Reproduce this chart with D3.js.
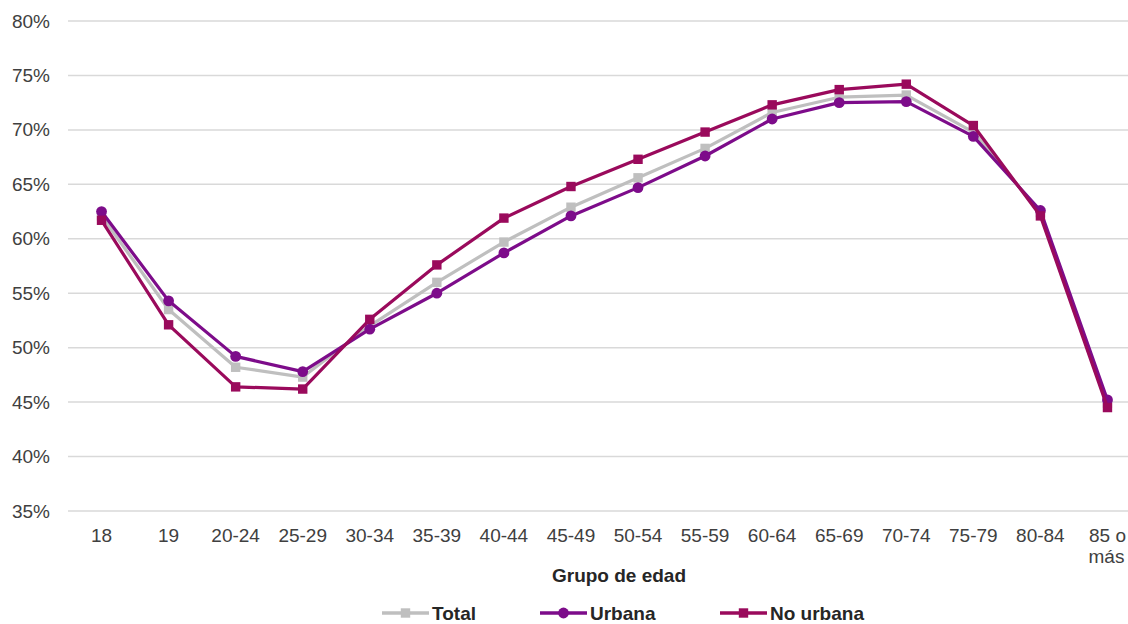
<!DOCTYPE html>
<html><head><meta charset="utf-8">
<script src="https://cdn.jsdelivr.net/npm/d3@7"></script>
<style>body{margin:0;background:#fff}svg{display:block;font-family:"Liberation Sans",Arial,sans-serif}</style>
</head><body><svg id="c" width="1128" height="624"></svg>
<script>
const categories = ["18","19","20-24","25-29","30-34","35-39","40-44","45-49","50-54","55-59","60-64","65-69","70-74","75-79","80-84","85 o más"];
const total    = [62.1,53.5,48.2,47.3,52.0,56.0,59.7,62.9,65.6,68.3,71.6,73.0,73.2,69.8,62.4,44.9];
const urbana   = [62.5,54.3,49.2,47.8,51.7,55.0,58.7,62.1,64.7,67.6,71.0,72.5,72.6,69.4,62.6,45.2];
const noUrbana = [61.7,52.1,46.4,46.2,52.6,57.6,61.9,64.8,67.3,69.8,72.3,73.7,74.2,70.4,62.1,44.5];
const yTicks = [35,40,45,50,55,60,65,70,75,80];
const seriesNames = ["Total","Urbana","No urbana"];

const svg = d3.select("#c");
const x = d3.scaleBand().domain(categories).range([68,1141]);
const y = d3.scaleLinear().domain([35,80]).range([511,21]);
const cx = d => x(d) + x.bandwidth()/2;
const FS = 19;

// grid
svg.append("g").selectAll("line").data(yTicks).join("line")
  .attr("x1",68).attr("x2",1128).attr("y1",d=>y(d)).attr("y2",d=>y(d))
  .attr("stroke","#d9d9d9").attr("stroke-width",1.5);

// y labels
svg.append("g").selectAll("text").data(yTicks).join("text")
  .attr("x",50).attr("y",d=>y(d)+6.5).attr("text-anchor","end")
  .attr("font-size",FS).attr("fill","#404040").text(d=>d+"%");

// x labels
const xl = svg.append("g");
categories.forEach(c=>{
  const parts = c==="85 o más" ? ["85 o","más"] : [c];
  parts.forEach((p,i)=>{
    xl.append("text").attr("x",cx(c)+(i===1?-1:0)).attr("y",542+i*21).attr("text-anchor","middle")
      .attr("font-size",FS).attr("fill","#404040").text(p);
  });
});
svg.append("text").attr("x",619).attr("y",582).attr("text-anchor","middle")
  .attr("font-size",FS).attr("font-weight","bold").attr("fill","#262626").text("Grupo de edad");

const series = [
  {name:seriesNames[0], vals:total, color:"#bfbfbf", shape:"square"},
  {name:seriesNames[1], vals:urbana, color:"#7d0c8a", shape:"circle"},
  {name:seriesNames[2], vals:noUrbana, color:"#9a0a5c", shape:"square"}
];
const line = d3.line().x((d,i)=>cx(categories[i])).y(d=>y(d));
series.forEach(s=>{
  const g = svg.append("g");
  g.append("path").datum(s.vals).attr("d",line).attr("fill","none")
   .attr("stroke",s.color).attr("stroke-width",3.2).attr("stroke-linejoin","round");
  if(s.shape==="circle"){
    g.selectAll("circle").data(s.vals).join("circle")
     .attr("cx",(d,i)=>cx(categories[i])).attr("cy",d=>y(d)).attr("r",5.4).attr("fill",s.color);
  } else {
    g.selectAll("rect").data(s.vals).join("rect")
     .attr("x",(d,i)=>cx(categories[i])-4.7).attr("y",d=>y(d)-4.7).attr("width",9.4).attr("height",9.4).attr("fill",s.color);
  }
});

// legend
const legX = [382,540,720];
series.forEach((s,i)=>{
  const g = svg.append("g").attr("transform",`translate(${legX[i]},613)`);
  g.append("line").attr("x1",0).attr("x2",47).attr("y1",0).attr("y2",0).attr("stroke",s.color).attr("stroke-width",3.4);
  if(s.shape==="circle") g.append("circle").attr("cx",23.5).attr("cy",0).attr("r",5.4).attr("fill",s.color);
  else g.append("rect").attr("x",18.8).attr("y",-4.7).attr("width",9.4).attr("height",9.4).attr("fill",s.color);
  g.append("text").attr("x",50).attr("y",7).attr("font-size",FS).attr("font-weight","bold").attr("fill","#262626").text(s.name);
});
</script></body></html>
